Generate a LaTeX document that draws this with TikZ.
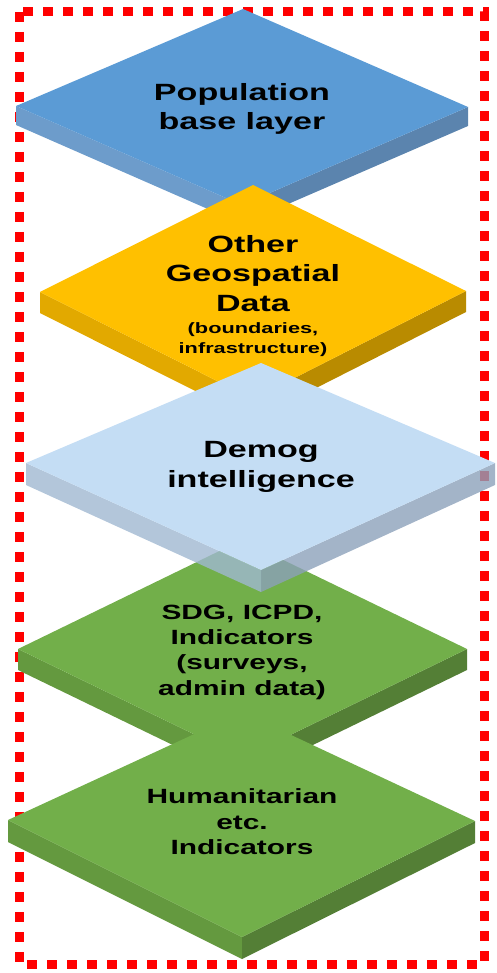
\documentclass[tikz,border=0pt]{standalone}
\usepackage{fontspec}
\newfontfamily\lab{Liberation Sans}[UprightFont={* Bold},FakeStretch=1.45]
\usetikzlibrary{calc}
\definecolor{bluetop}{HTML}{5B9BD5}
\definecolor{blueleft}{HTML}{6D9CCB}
\definecolor{blueright}{HTML}{5B84AE}
\definecolor{yeltop}{HTML}{FFC000}
\definecolor{yelleft}{HTML}{E2A900}
\definecolor{yelright}{HTML}{B98B00}
\definecolor{ltop}{HTML}{C4DDF4}
\definecolor{lleft}{HTML}{A0B8D1}
\definecolor{lright}{HTML}{8CA1BA}
\definecolor{gtop}{HTML}{72AF4A}
\definecolor{gleft}{HTML}{64993F}
\definecolor{gright}{HTML}{547F36}
\tikzset{
  lbl/.style={anchor=base, inner sep=0pt, text=black, font=\lab\fontsize{23.5}{28}\selectfont},
  lblm/.style={lbl, font=\lab\fontsize{20.6}{25}\selectfont},
  lbls/.style={lbl, font=\lab\fontsize{15}{18}\selectfont},
  border/.style={draw=red, line width=9pt, dash pattern=on 10pt off 10pt},
  solidside/.style={},
  glassside/.style={fill opacity=0.8},
}
\newcommand\myslab[6]{%
  \fill[#3,#6] (#1L) -- (#1B) -- ($(#1B)+(0,#5)$) -- ($(#1L)+(0,#5)$) -- cycle;
  \fill[#4,#6] (#1B) -- (#1R) -- ($(#1R)+(0,#5)$) -- ($(#1B)+(0,#5)$) -- cycle;
  \fill[#2] (#1T) -- (#1R) -- (#1B) -- (#1L) -- cycle;
}
\begin{document}
\begin{tikzpicture}[x=1pt,y=-1pt]
\useasboundingbox (0,0) rectangle (497,973);
\path[border] (19,12) rectangle (484,964);
% blue layer
\coordinate (aT) at (243,9);   \coordinate (aL) at (16,106);
\coordinate (aR) at (468,107); \coordinate (aB) at (242,205);
\myslab{a}{bluetop}{blueleft}{blueright}{19}{solidside}
% yellow layer
\coordinate (bT) at (253,185); \coordinate (bL) at (40,292);
\coordinate (bR) at (466,291); \coordinate (bB) at (253,399);
\myslab{b}{yeltop}{yelleft}{yelright}{21}{solidside}
% SDG green layer
\coordinate (dT) at (242,540); \coordinate (dL) at (18,649);
\coordinate (dR) at (467,649); \coordinate (dB) at (243,758);
\myslab{d}{gtop}{gleft}{gright}{21}{solidside}
% light blue layer
\coordinate (cT) at (261,363); \coordinate (cL) at (26,463);
\coordinate (cR) at (495,463); \coordinate (cB) at (261,570);
\myslab{c}{ltop}{lleft}{lright}{22}{glassside}
% humanitarian layer
\coordinate (eT) at (242,712); \coordinate (eL) at (8,820);
\coordinate (eR) at (475,821); \coordinate (eB) at (242,937);
\myslab{e}{gtop}{gleft}{gright}{22}{solidside}
% texts
\node[lbl] (pop1) at (242,101) {Population};
\node[lbl] (pop2) at (242,130) {base layer};
\node[lbl] (geo1) at (253,253) {Other};
\node[lbl] (geo2) at (253,282) {Geospatial};
\node[lbl] (geo3) at (253,311) {Data};
\node[lbls] (geo4) at (253,333) {(boundaries,};
\node[lbls] (geo5) at (253,353) {infrastructure)};
\node[lbl] (dem1) at (261,457) {Demog};
\node[lbl] (dem2) at (261,487) {intelligence};
\node[lblm] (sdg1) at (242,619) {SDG, ICPD,};
\node[lblm] (sdg2) at (242,644) {Indicators};
\node[lblm] (sdg3) at (242,669) {(surveys,};
\node[lblm] (sdg4) at (242,695) {admin data)};
\node[lblm] (hum1) at (242,803) {Humanitarian};
\node[lblm] (hum2) at (242,829) {etc.};
\node[lblm] (hum3) at (242,854) {Indicators};
\end{tikzpicture}
\end{document}
